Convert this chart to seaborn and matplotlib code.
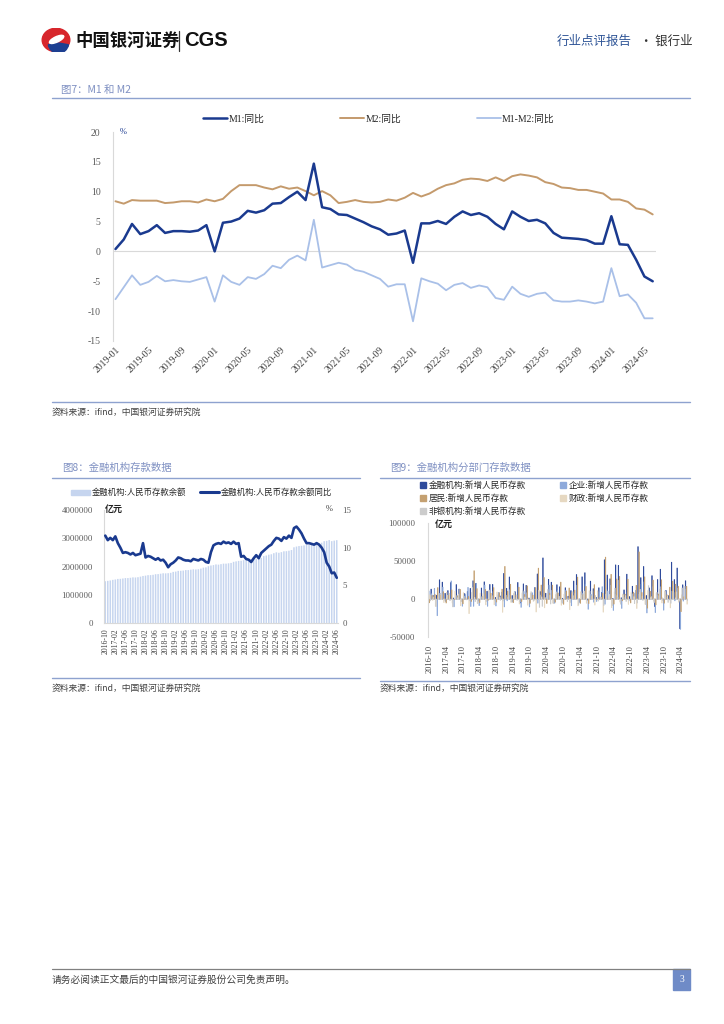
import numpy as np
import pandas as pd
import matplotlib
matplotlib.use('Agg')
import matplotlib.pyplot as plt
import seaborn as sns
from matplotlib.patches import Ellipse, Wedge, Patch, Rectangle
from matplotlib.lines import Line2D

# ---------------- data ----------------
# 图7: M1 / M2 同比 (%), 2019-01 .. 2024-06
months7 = [d.strftime('%Y-%m') for d in pd.date_range('2019-01-01', '2024-06-01', freq='MS')]
m1_yoy = [0.4, 2.0, 4.6, 2.9, 3.4, 4.4, 3.1, 3.4, 3.4, 3.3, 3.5, 4.4,
          0.0, 4.8, 5.0, 5.5, 6.8, 6.5, 6.9, 8.0, 8.1, 9.1, 10.0, 8.6,
          14.7, 7.4, 7.1, 6.2, 6.1, 5.5, 4.9, 4.2, 3.7, 2.8, 3.0, 3.5,
          -1.9, 4.7, 4.7, 5.1, 4.6, 5.8, 6.7, 6.1, 6.4, 5.8, 4.6, 3.7,
          6.7, 5.8, 5.1, 5.3, 4.7, 3.1, 2.3, 2.2, 2.1, 1.9, 1.3, 1.3,
          5.9, 1.2, 1.1, -1.4, -4.2, -5.0]
m2_yoy = [8.4, 8.0, 8.6, 8.5, 8.5, 8.5, 8.1, 8.2, 8.4, 8.4, 8.2, 8.7,
          8.4, 8.8, 10.1, 11.1, 11.1, 11.1, 10.7, 10.4, 10.9, 10.5, 10.7, 10.1,
          9.4, 10.1, 9.4, 8.1, 8.3, 8.6, 8.3, 8.2, 8.3, 8.7, 8.5, 9.0,
          9.8, 9.2, 9.7, 10.5, 11.1, 11.4, 12.0, 12.2, 12.1, 11.8, 12.4, 11.8,
          12.6, 12.9, 12.7, 12.4, 11.6, 11.3, 10.7, 10.6, 10.3, 10.3, 10.0, 9.7,
          8.7, 8.7, 8.3, 7.2, 7.0, 6.2]
m1_m2_yoy = [-8.0, -6.0, -4.0, -5.6, -5.1, -4.1, -5.0, -4.8, -5.0, -5.1, -4.7, -4.3,
             -8.4, -4.0, -5.1, -5.6, -4.3, -4.6, -3.8, -2.4, -2.8, -1.4, -0.7, -1.5,
             5.3, -2.7, -2.3, -1.9, -2.2, -3.1, -3.4, -4.0, -4.6, -5.9, -5.5, -5.5,
             -11.7, -4.5, -5.0, -5.4, -6.5, -5.6, -5.3, -6.1, -5.7, -6.0, -7.8, -8.1,
             -5.9, -7.1, -7.6, -7.1, -6.9, -8.2, -8.4, -8.4, -8.2, -8.4, -8.7, -8.4,
             -2.8, -7.5, -7.2, -8.6, -11.2, -11.2]

# 图8 / 图9: 2016-10 .. 2024-06
months89 = [d.strftime('%Y-%m') for d in pd.date_range('2016-10-01', '2024-06-01', freq='MS')]
deposit_bal = [1478000, 1492000, 1506000,
               1527000, 1540000, 1560000, 1564000, 1576000, 1590000, 1591000, 1601000, 1615000, 1611000, 1622000, 1641000,
               1664000, 1677000, 1693000, 1695000, 1706000, 1727000, 1731000, 1745000, 1760000, 1757000, 1763000, 1775000,
               1809000, 1820000, 1845000, 1848000, 1856000, 1873000, 1873000, 1887000, 1900000, 1895000, 1904000, 1926000,
               1959000, 1969000, 2010000, 2035000, 2050000, 2073000, 2066000, 2084000, 2101000, 2101000, 2113000, 2126000,
               2165000, 2182000, 2198000, 2204000, 2225000, 2247000, 2237000, 2259000, 2274000, 2271000, 2288000, 2303000,
               2369000, 2389000, 2418000, 2433000, 2471000, 2501000, 2485000, 2508000, 2538000, 2542000, 2559000, 2583000,
               2680000, 2706000, 2724000, 2732000, 2746000, 2779000, 2764000, 2781000, 2803000, 2801000, 2812000, 2842000,
               2896000, 2908000, 2936000, 2897000, 2916000, 2932000]
deposit_yoy = [11.6, 11.0, 11.3,
               11.0, 11.5, 10.6, 10.0, 9.3, 9.4, 9.3, 9.1, 9.3, 9.0, 9.1, 9.2,
               10.6, 8.7, 8.9, 8.8, 8.6, 8.4, 8.6, 8.3, 8.4, 8.0, 7.4, 7.8,
               8.0, 8.3, 8.7, 8.6, 8.4, 8.3, 8.3, 8.2, 8.5, 8.4, 8.3, 8.5,
               8.4, 8.1, 8.0, 9.4, 10.3, 10.5, 10.6, 10.5, 10.8, 10.6, 10.7, 10.5,
               10.8, 10.5, 10.6, 8.8, 8.9, 8.5, 8.4, 8.1, 8.6, 9.0, 8.6, 9.3,
               9.6, 9.9, 10.2, 10.4, 10.9, 11.3, 11.2, 10.9, 11.4, 11.2, 11.6, 11.3,
               12.6, 12.8, 12.4, 11.9, 11.2, 10.6, 10.6, 10.5, 10.4, 10.6, 10.4, 10.0,
               9.4, 8.0, 7.5, 6.6, 6.7, 6.0]

new_total = [6100, 13000, 4600,
             5000, 25300, 22200, 7500, 11100, 21600, 1300, 19000, 13100, -2800, 7100, 9900,
             14000, 24000, 20600, -2700, 14500, 22600, 10300, 19200, 19200, 2000, 5600, 4100,
             33700, 14100, 29000, 4600, 9700, 21800, -5200, 19900, 18000, 1300, 7000, 14900,
             33000, 9800, 54100, 7600, 25900, 22100, -1300, 18800, 16100, 1000, 14800, 3700,
             11100, 23700, 32200, -4100, 29200, 34600, -1400, 23500, 13600, 2200, 14800, 8800,
             51600, 31600, 26600, 900, 44900, 44300, 1600, 12000, 32700, 3200, 16800, 7600,
             68900, 28100, 42800, 4600, 14600, 30700, -10000, 25600, 39200, -2200, 11300, 4400,
             48400, 25600, 40800, -39200, 18700, 24000]
new_corp = [10600, 6900, 14000,
            -22000, 7400, 15700, -3300, 1300, 23800, -10300, 4500, 12400, -9500, 6000, 15300,
            -9900, -9600, 20700, -8700, 2800, 18400, -9600, 5500, 9800, -9200, 8700, 8900,
            -10400, -2400, 12300, -4000, 1800, 15300, -11000, 9900, 8200, -10400, 8200, 14900,
            -5500, 5300, 17100, 1200, 18300, 11500, -5600, 11300, 2700, -5700, 11600, 1500,
            -8900, 9800, 18200, -3800, 7200, 19200, -13500, 6200, -4200, -3300, 9000, 16200,
            -6900, 10400, 18100, -15000, 6300, 24700, -12400, 2000, 8600, -2600, 6800, 11400,
            6200, 19600, 22700, -18400, -600, 16100, -17900, 5200, 16200, -14700, 2200, -1200,
            10500, -2400, 14400, -39900, -2800, 12900]
new_house = [-5000, 4700, 5900,
             15000, 4800, 9600, -5300, 5000, 12000, -800, 4200, 12700, -6400, 1300, 3300,
             -3200, 37200, 13700, -4700, 3800, 12600, -1700, 7600, 15000, -4000, 8200, 13000,
             42900, 10300, 19400, -4900, 5100, 15600, -3300, 5900, 17300, -5700, 5200, 14900,
             40600, 18400, 28300, -5900, 7800, 18300, -4200, 8000, 22200, -7000, 10400, 14500,
             8400, 11600, 28800, -5700, 6000, 16600, -6000, 3900, 18900, -1000, 2000, 7500,
             55100, 1200, 32500, -6700, 26400, 29700, -2400, 6400, 26100, -5200, 9000, 18000,
             62000, 8600, 29200, -12000, 10200, 24900, -7800, 6600, 25300, -5500, 5400, 15600,
             23400, 19500, 16800, -16700, 2900, 16700]
new_fiscal = [5600, -1800, -9500,
              2800, 6700, -4700, 8800, 7500, -5300, 10200, 1800, -8900, 8300, 1400, -19300,
              8700, 2300, -6000, 7700, 7100, -7700, 10400, 3000, -7500, 9200, 2300, -17500,
              9700, 2700, -4400, 7400, 5300, -6600, 8100, 2700, -8200, 7600, -3000, -17100,
              11700, 2800, -11600, 6700, 5100, -5600, 5900, -500, -8200, 6400, -1100, -14100,
              9700, 7500, -9000, 9600, 6500, -5600, 10900, 4000, -8000, 10900, 2800, -17300,
              6400, 3800, -11400, 9500, 4600, -4000, 6500, 4500, -7100, 8500, 3100, -12500,
              9000, 3500, -7000, 11300, 2000, -2700, 7700, 4300, -5300, 10600, 4100, -11700,
              10000, 1700, -4200, 5500, 3400, -6800]
new_nonbank = [-2500, 3000, -10000,
               7700, 6600, -1600, 5000, -2300, -10400, 2800, 6500, -3500, 3700, -1200, -2500,
               15100, -3500, -5600, 3300, 3300, -3300, 11800, 4400, -1700, 2000, -1800, -2700,
               5000, 5100, -4100, 9500, -1800, -3900, 11200, 2000, -800, 9600, -2500, -1300,
               -11000, -9700, 2000, 12500, -6600, -5800, 9300, 3700, -4400, 9000, -3500, -4600,
               4500, -800, -7100, 4800, 10400, 1000, 10300, 10800, 4600, -2800, 2400, -8700,
               12400, 6000, -8700, 14300, 2400, -6800, 5000, -3300, -1300, 7100, -6100, -5300,
               12800, -1900, -7300, 17600, 3100, -4700, 8700, 13000, 1500, 9800, -4500, -5600,
               8700, 9400, -2600, 14600, 16600, -2000]

sector_names = ['金融机构:新增人民币存款', '企业:新增人民币存款', '居民:新增人民币存款',
                '财政:新增人民币存款', '非银机构:新增人民币存款']
sector_colors = ['#2f4b9c', '#8eaadb', '#c4a071', '#e6d8c1', '#cccccc']

# ---------------- style ----------------
sns.set_style('white')
plt.rcParams['font.family'] = ['Liberation Serif', 'Noto Sans CJK SC']
plt.rcParams['axes.unicode_minus'] = False

W, H = 724, 1024
fig = plt.figure(figsize=(7.24, 10.24), dpi=100)


def fx(x):
    return x / W


def fy(y):
    return 1 - y / H


def hline(x0, x1, y, color, lw):
    fig.add_artist(Line2D([fx(x0), fx(x1)], [fy(y), fy(y)], color=color, lw=lw, transform=fig.transFigure))


def axes_px(x0, y0, x1, y1):
    return fig.add_axes([fx(x0), fy(y1), (x1 - x0) / W, (y1 - y0) / H])


CN = ['Noto Sans CJK SC']
title_col = '#7f90c2'
sep_col = '#8ea2cf'
src = '资料来源：ifind，中国银河证券研究院'

# ---------------- header ----------------
logo = axes_px(41, 28, 71, 52)
logo.set_xlim(-1.25, 1.25)
logo.set_ylim(-1, 1)
logo.axis('off')
logo.add_patch(Ellipse((0, 0), 2.3, 1.95, color='#d7262c'))
logo.add_patch(Wedge((0.2, -0.25), 0.85, 190, 350, color='#1d3f91'))
logo.add_patch(Ellipse((0.05, 0.05), 1.3, 0.45, angle=25, color='white'))
fig.text(fx(75), fy(41), '中国银河证券', family=CN, fontsize=12.5, fontweight='bold', va='center', color='#111111')
fig.add_artist(Line2D([fx(179), fx(179)], [fy(31), fy(51)], color='#333333', lw=0.9, transform=fig.transFigure))
fig.text(fx(184), fy(41), 'CGS', family=['Liberation Sans'], fontsize=14.5, fontweight='bold', va='center', color='#111111')
fig.text(fx(557), fy(41), '行业点评报告', family=CN, fontsize=9, va='center', color='#2f5597')
fig.text(fx(640), fy(41), '· 银行业', family=CN, fontsize=9, va='center', color='#333333')

# ---------------- 图7 ----------------
fig.text(fx(61), fy(90), '图7：M1 和 M2', family=CN, fontsize=7.5, va='center', color=title_col)
hline(52, 690, 98, sep_col, 1.0)

ax7 = axes_px(113, 132, 656, 341)
idx7 = np.arange(len(months7))
sns.lineplot(x=idx7, y=m1_m2_yoy, ax=ax7, color='#a9c0e8', lw=1.3, label='M1-M2:同比')
sns.lineplot(x=idx7, y=m2_yoy, ax=ax7, color='#c49a6c', lw=1.4, label='M2:同比')
sns.lineplot(x=idx7, y=m1_yoy, ax=ax7, color='#1a3a8f', lw=1.8, label='M1:同比')
ax7.axhline(0, color='#d9d9d9', lw=0.8, zorder=0)
ax7.set_xlim(-0.3, len(months7) - 0.6)
ax7.set_ylim(-15, 20)
ax7.set_yticks(range(-15, 21, 5))
ax7.set_xticks(idx7[::4])
ax7.set_xticklabels(months7[::4], rotation=45, ha='right', rotation_mode='anchor')
ax7.tick_params(axis='y', length=0, pad=9, labelsize=7, labelcolor='#595959')
ax7.tick_params(axis='x', length=0, pad=3, labelsize=7, labelcolor='#404040')
for s in ['top', 'right', 'bottom']:
    ax7.spines[s].set_visible(False)
ax7.spines['left'].set_color('#d9d9d9')
ax7.set_xlabel('')
ax7.set_ylabel('')
h, l = ax7.get_legend_handles_labels()
ax7.legend(h[::-1], l[::-1], ncol=3, loc='center left', bbox_to_anchor=(fx(203), fy(119)),
           bbox_transform=fig.transFigure, frameon=False, fontsize=7, handlelength=2.5,
           handletextpad=0.1, columnspacing=7.8, borderpad=0, borderaxespad=0)
fig.text(fx(120), fy(132), '%', fontsize=6, color='#1a3a8f', va='center')

hline(52, 690, 402, sep_col, 1.0)
fig.text(fx(52), fy(412), src, family=CN, fontsize=6.3, va='center', color='#404040')

# ---------------- 图8 ----------------
fig.text(fx(62), fy(468), '图8：金融机构存款数据', family=CN, fontsize=7.5, va='center', color=title_col)
hline(52, 360, 478, sep_col, 1.0)

ax8 = axes_px(104, 510, 338, 623)
sns.barplot(x=months89, y=deposit_bal, ax=ax8, color='#c6d5ef', width=0.6, saturation=1, linewidth=0)
for p in ax8.patches:
    p.set_snap(False)
ax8.set_ylim(0, 4000000)
ax8.set_yticks([0, 1000000, 2000000, 3000000, 4000000])
ax8.set_yticklabels(['0', '1000000', '2000000', '3000000', '4000000'])
ax8.set_xlim(-0.5, len(months89) - 0.5)
ax8.set_xticks(range(0, len(months89), 4))
ax8.set_xticklabels(months89[::4], rotation=90, ha='center', va='top')
ax8.tick_params(axis='y', length=0, pad=8, labelsize=6.3, labelcolor='#595959')
ax8.tick_params(axis='x', length=0, pad=4, labelsize=5.6, labelcolor='#404040')
for s in ['top', 'right']:
    ax8.spines[s].set_visible(False)
ax8.spines['left'].set_color('#d9d9d9')
ax8.spines['bottom'].set_color('#d9d9d9')
ax8.set_xlabel('')
ax8.set_ylabel('')

ax8r = ax8.twinx()
sns.lineplot(x=np.arange(len(months89)), y=deposit_yoy, ax=ax8r, color='#1a3a8f', lw=1.9)
ax8r.set_ylim(0, 15)
ax8r.set_yticks([0, 5, 10, 15])
ax8r.tick_params(axis='y', length=0, pad=3, labelsize=6.3, labelcolor='#595959')
for s in ['top', 'right', 'left', 'bottom']:
    ax8r.spines[s].set_visible(False)
ax8r.set_xlim(-0.5, len(months89) - 0.5)
ax8r.set_ylabel('')
fig.legend([Patch(color='#c6d5ef'), Line2D([], [], color='#1a3a8f', lw=2.2)],
           ['金融机构:人民币存款余额', '金融机构:人民币存款余额同比'],
           ncol=2, loc='center left', bbox_to_anchor=(fx(71), fy(493)), frameon=False,
           fontsize=6, handlelength=2.3, handleheight=0.6, handletextpad=0.2, columnspacing=1.6,
           borderpad=0, borderaxespad=0)
fig.text(fx(105), fy(509), '亿元', family=CN, fontsize=6.5, fontweight='bold', va='center', color='#222222')
fig.text(fx(326), fy(509), '%', fontsize=6, va='center', color='#404040')

hline(52, 360, 678, sep_col, 1.0)
fig.text(fx(52), fy(688), src, family=CN, fontsize=6.3, va='center', color='#404040')

# ---------------- 图9 ----------------
fig.text(fx(390), fy(468), '图9：金融机构分部门存款数据', family=CN, fontsize=7.5, va='center', color=title_col)
hline(380, 690, 478, sep_col, 1.0)

df9 = pd.DataFrame({
    'month': months89 * 5,
    'value': new_total + new_corp + new_house + new_fiscal + new_nonbank,
    'series': [n for n in sector_names for _ in months89],
})
ax9 = axes_px(428, 523, 688, 637)
sns.barplot(data=df9, x='month', y='value', hue='series', hue_order=sector_names,
            palette=sector_colors, ax=ax9, width=0.95, saturation=1, legend=False, linewidth=0)
for p in ax9.patches:
    p.set_snap(False)
    p.set_edgecolor(p.get_facecolor())
    p.set_linewidth(0.45)
ax9.axhline(0, color='#d9d9d9', lw=0.6, zorder=0)
ax9.set_ylim(-50000, 100000)
ax9.set_yticks([-50000, 0, 50000, 100000])
ax9.set_xlim(-0.5, len(months89) - 0.5)
ax9.set_xticks(range(0, len(months89), 6))
ax9.set_xticklabels(months89[::6], rotation=90, ha='center', va='top')
ax9.tick_params(axis='y', length=0, pad=9, labelsize=6.3, labelcolor='#595959')
ax9.tick_params(axis='x', length=0, pad=6, labelsize=6, labelcolor='#404040')
for s in ['top', 'right', 'bottom']:
    ax9.spines[s].set_visible(False)
ax9.spines['left'].set_color('#d9d9d9')
ax9.set_xlabel('')
ax9.set_ylabel('')
order = [0, 2, 4, 1, 3]
fig.legend([Patch(color=sector_colors[i]) for i in order], [sector_names[i] for i in order],
           ncol=2, loc='upper left', bbox_to_anchor=(fx(420), fy(481)), frameon=False,
           fontsize=6.2, handlelength=0.7, handleheight=0.7, handletextpad=0.3,
           columnspacing=4.0, labelspacing=0.5, borderpad=0, borderaxespad=0)
fig.text(fx(435), fy(524), '亿元', family=CN, fontsize=6.5, fontweight='bold', va='center', color='#222222')

hline(380, 690, 681, sep_col, 1.0)
fig.text(fx(380), fy(688), src, family=CN, fontsize=6.3, va='center', color='#404040')

# ---------------- footer ----------------
hline(52, 690, 969, '#808080', 0.9)
fig.text(fx(52), fy(980), '请务必阅读正文最后的中国银河证券股份公司免责声明。', family=CN,
         fontsize=7, va='center', color='#404040')
fig.add_artist(Rectangle((fx(673), fy(990)), 17 / W, 21 / H, color='#6f8bc7', transform=fig.transFigure))
fig.text(fx(681.5), fy(979.5), '3', fontsize=7, ha='center', va='center', color='white')

fig.savefig('out.png', dpi=100)
